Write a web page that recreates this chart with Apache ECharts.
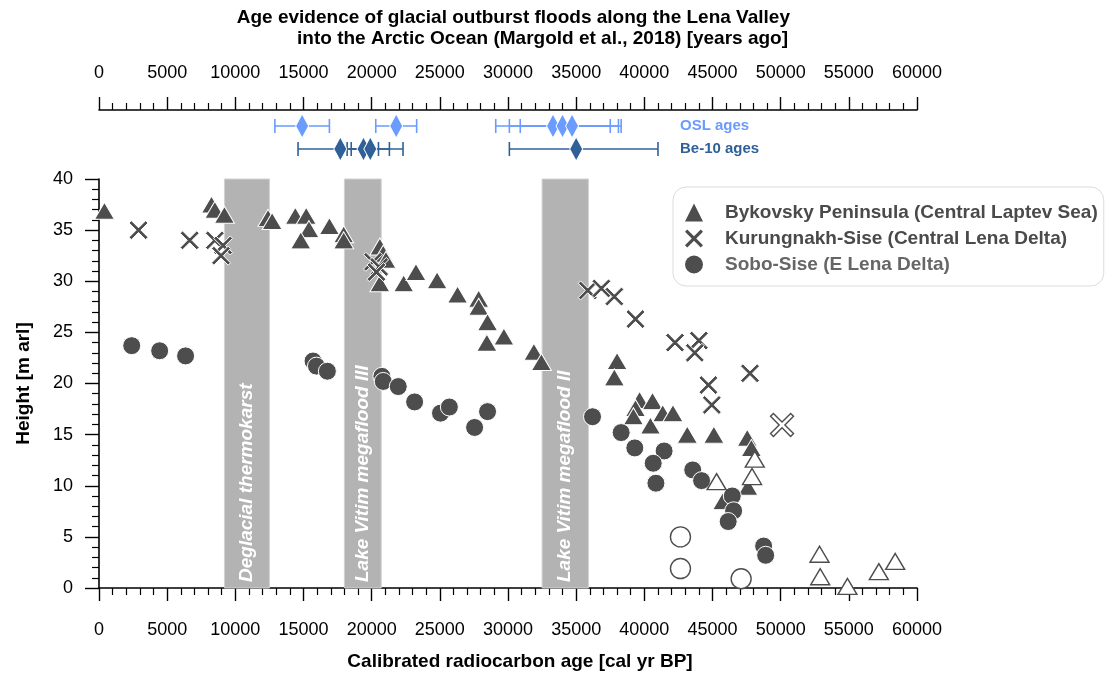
<!DOCTYPE html>
<html>
<head>
<meta charset="utf-8">
<script src="https://cdn.jsdelivr.net/npm/echarts@6/dist/echarts.min.js"></script>
<style>
  html, body { margin: 0; padding: 0; background: #fff; }
  #chart { width: 1105px; height: 673px; }
</style>
</head>
<body>
<div id="chart"></div>
<script>
// ---- Radiocarbon-dated samples: [age cal yr BP, height m arl] ----
const bykovsky = [
  [400, 36.9], [8250, 37.5], [8500, 37.0], [9200, 36.5], [12400, 36.2], [12700, 35.9],
  [14400, 36.4], [15200, 36.4], [15400, 35.1], [14800, 34.0], [16900, 35.4],
  [17950, 34.6], [17950, 34.0], [20600, 33.4], [20850, 32.7], [21050, 32.1],
  [20600, 29.8], [22350, 29.8], [23250, 30.9], [24800, 30.1], [26300, 28.7],
  [27850, 28.3], [27850, 27.5], [28500, 26.0], [28450, 24.0], [29700, 24.6],
  [31900, 23.1], [32450, 22.1], [38000, 22.2], [37800, 20.6], [39650, 18.4],
  [40600, 18.3], [39350, 17.6], [39200, 16.8], [40450, 15.9], [41350, 17.1],
  [42100, 17.1], [43150, 15.0], [45100, 15.0], [47550, 14.7], [47850, 13.7],
  [47600, 9.9], [45750, 8.5]
];
const bykovskyOpen = [
  [45300, 10.4], [47900, 10.9], [48100, 12.6], [52850, 3.3], [52900, 1.1],
  [54900, 0.15], [57200, 1.6], [58400, 2.6]
];
const kurungnakh = [
  [2900, 35.0], [6650, 34.0], [8500, 34.0], [9100, 33.5], [8950, 32.5],
  [20100, 31.9], [20550, 31.4], [20350, 30.9], [35850, 29.1], [36850, 29.3],
  [37800, 28.5], [39350, 26.3], [42250, 24.0], [44000, 24.2], [43700, 23.0],
  [47750, 21.0], [44700, 19.85], [44950, 17.9]
];
const kurungnakhOpen = [[50100, 15.95]];
const sobo = [
  [2400, 23.7], [4450, 23.2], [6350, 22.7], [15700, 22.2], [15950, 21.7],
  [16750, 21.2], [20750, 20.7], [20850, 20.2], [21950, 19.7], [23150, 18.2],
  [25050, 17.1], [25700, 17.7], [27550, 15.7], [28500, 17.25], [36200, 16.75],
  [38300, 15.2], [39300, 13.7], [41450, 13.4], [40650, 12.2], [40850, 10.25],
  [43550, 11.55], [44200, 10.5], [46450, 9.0], [46550, 7.55], [46150, 6.5],
  [48750, 4.1], [48900, 3.2]
];
const soboOpen = [[42650, 5.0], [42650, 1.9], [47100, 0.9]];

// ---- Dated flood evidence (Margold et al., 2018) [years ago] ----
const ageRows = ['OSL ages', 'Be-10 ages'];
const oslAge  = [14900, 21800, 33300, 34000, 34700];
const oslLow  = [12900, 20300, 29100, 30100, 30900];
const oslHigh = [16900, 23300, 37500, 38100, 38300];
const beAge   = [17700, 19400, 19900, 35000];
const beLow   = [14600, 18200, 18500, 30100];
const beHigh  = [20500, 21300, 22300, 41000];

// ---- Shaded periods ----
const periodStart = [9200, 18000, 32500];
const periodEnd   = [12500, 20700, 35900];
const periodName  = ['Deglacial thermokarst', 'Lake Vitim megaflood III', 'Lake Vitim megaflood II'];

const AGE_MIN = 0, AGE_MAX = 60000, AGE_STEP = 5000;
const H_MIN = 0, H_MAX = 40, H_STEP = 5;

const FONT = '"Liberation Sans", Arial, Helvetica, sans-serif';
const INK = '#4d4d4d';
const OSL_COLOR = '#6a9bff';
const BE_COLOR = '#2f6198';
// bold "x" marker outline (20 x 20 box)
const X_PATH = 'path://M0,2.5L2.5,0L10,7.5L17.5,0L20,2.5L12.5,10L20,17.5L17.5,20L10,12.5L2.5,20L0,17.5L7.5,10Z';

const NAMES = [
  'Bykovsky Peninsula (Central Laptev Sea)',
  'Kurungnakh-Sise (Central Lena Delta)',
  'Sobo-Sise (E Lena Delta)'
];

const plainNumber = v => String(v);

const chart = echarts.init(document.getElementById('chart'), null, { renderer: 'canvas' });

const filledStyle = { color: INK, borderColor: '#fff', borderWidth: 1, opacity: 1 };
const openStyle = { color: '#fff', borderColor: INK, borderWidth: 1.4, opacity: 1 };

function errorBarSeries(low, high, row, color) {
  return {
    type: 'custom',
    xAxisIndex: 0, yAxisIndex: 0,
    data: low.map((l, i) => [l, high[i], row]),
    encode: { x: [0, 1], y: 2 },
    z: 3,
    silent: true,
    renderItem(params, api) {
      const y = api.coord([api.value(0), api.value(2)])[1];
      const x0 = api.coord([api.value(0), api.value(2)])[0];
      const x1 = api.coord([api.value(1), api.value(2)])[0];
      const style = { stroke: color, lineWidth: 1.6 };
      return {
        type: 'group',
        children: [
          { type: 'line', shape: { x1: x0, y1: y, x2: x1, y2: y }, style },
          { type: 'line', shape: { x1: x0, y1: y - 7, x2: x0, y2: y + 7 }, style },
          { type: 'line', shape: { x1: x1, y1: y - 7, x2: x1, y2: y + 7 }, style }
        ]
      };
    }
  };
}

const axisLineStyle = { color: '#000', width: 1.6 };
const tickStyle = { color: '#000', width: 1.4 };
const minorStyle = { color: '#000', width: 1.2 };

const option = {
  animation: false,
  backgroundColor: '#fff',
  textStyle: { fontFamily: FONT },
  title: [
    {
      text: 'Age evidence of glacial outburst floods along the Lena Valley',
      right: 315, top: 8, padding: 0,
      textStyle: { fontFamily: FONT, fontSize: 19, fontWeight: 'bold', color: '#000' }
    },
    {
      text: 'into the Arctic Ocean (Margold et al., 2018) [years ago]',
      right: 317, top: 29, padding: 0,
      textStyle: { fontFamily: FONT, fontSize: 19, fontWeight: 'bold', color: '#000' }
    }
  ],
  legend: {
    orient: 'vertical',
    left: 673, top: 187,
    padding: [16, 6, 12, 12],
    itemWidth: 18, itemHeight: 18, itemGap: 7,
    backgroundColor: '#fff',
    borderColor: '#dcdcdc', borderWidth: 1, borderRadius: 13,
    selectedMode: false,
    itemStyle: { borderWidth: 0 },
    textStyle: { fontFamily: FONT, fontSize: 19, fontWeight: 'bold', color: '#4a4a4a', padding: [0, 0, 0, 17] },
    data: [
      { name: NAMES[0] },
      { name: NAMES[1] },
      { name: NAMES[2], textStyle: { color: '#666' } }
    ]
  },
  grid: [
    { left: 99, right: 188, top: 114.5, height: 46, outerBoundsMode: 'none', containLabel: false },
    { left: 99, right: 188, top: 179, bottom: 85, outerBoundsMode: 'none', containLabel: false }
  ],
  xAxis: [
    {
      gridIndex: 0, type: 'value', position: 'top', offset: 4.5,
      min: AGE_MIN, max: AGE_MAX, interval: AGE_STEP,
      axisLine: { show: true, lineStyle: axisLineStyle },
      axisTick: { show: true, inside: false, length: 13, lineStyle: tickStyle },
      minorTick: { show: true, splitNumber: 5, length: 7, lineStyle: minorStyle },
      splitLine: { show: false },
      axisLabel: { margin: 28, fontSize: 18, color: '#000', fontFamily: FONT, formatter: plainNumber }
    },
    {
      gridIndex: 1, type: 'value', position: 'bottom',
      min: AGE_MIN, max: AGE_MAX, interval: AGE_STEP,
      name: 'Calibrated radiocarbon age [cal yr BP]',
      nameLocation: 'middle', nameGap: 64,
      nameTextStyle: { fontFamily: FONT, fontSize: 19, fontWeight: 'bold', color: '#000', padding: [0, 0, 0, 24] },
      axisLine: { show: true, onZero: false, lineStyle: axisLineStyle },
      axisTick: { show: true, inside: false, length: 13, lineStyle: tickStyle },
      minorTick: { show: true, splitNumber: 5, length: 7, lineStyle: minorStyle },
      splitLine: { show: false },
      axisLabel: { margin: 33, fontSize: 18, color: '#000', fontFamily: FONT, formatter: plainNumber }
    }
  ],
  yAxis: [
    {
      gridIndex: 0, type: 'category', data: ageRows, inverse: true,
      position: 'right', offset: -240,
      axisLine: { show: false }, axisTick: { show: false }, splitLine: { show: false },
      axisLabel: {
        margin: 3, fontSize: 15, fontWeight: 'bold', fontFamily: FONT,
        color: (v, i) => (i === 0 ? OSL_COLOR : BE_COLOR)
      }
    },
    {
      gridIndex: 1, type: 'value',
      min: H_MIN, max: H_MAX, interval: H_STEP,
      name: 'Height [m arl]',
      nameLocation: 'middle', nameGap: 66,
      nameTextStyle: { fontFamily: FONT, fontSize: 19, fontWeight: 'bold', color: '#000' },
      axisLine: { show: true, lineStyle: axisLineStyle },
      axisTick: { show: true, inside: false, length: 14, lineStyle: tickStyle },
      minorTick: { show: true, splitNumber: 5, length: 7, lineStyle: minorStyle },
      splitLine: { show: false },
      axisLabel: { margin: 26, fontSize: 18, color: '#000', fontFamily: FONT }
    }
  ],
  series: [
    // shaded periods with rotated captions
    {
      type: 'custom',
      xAxisIndex: 1, yAxisIndex: 1,
      data: periodStart.map((s, i) => [s, periodEnd[i], i]),
      encode: { x: [0, 1] },
      z: 1,
      silent: true,
      renderItem(params, api) {
        const p0 = api.coord([api.value(0), H_MAX]);
        const p1 = api.coord([api.value(1), H_MIN]);
        const name = periodName[api.value(2)];
        return {
          type: 'group',
          children: [
            {
              type: 'rect',
              shape: { x: p0[0], y: p0[1], width: p1[0] - p0[0], height: p1[1] - p0[1] },
              style: { fill: '#b3b3b3', stroke: '#d2d2d2', lineWidth: 1 }
            },
            {
              type: 'text',
              x: (p0[0] + p1[0]) / 2, y: p1[1] - 6,
              rotation: Math.PI / 2,
              style: {
                text: name, fill: '#fff',
                font: 'italic bold 19px ' + FONT,
                align: 'left', verticalAlign: 'middle'
              }
            }
          ]
        };
      }
    },
    errorBarSeries(oslLow, oslHigh, 0, OSL_COLOR),
    errorBarSeries(beLow, beHigh, 1, BE_COLOR),
    {
      type: 'scatter', xAxisIndex: 0, yAxisIndex: 0,
      symbol: 'diamond', symbolSize: [13, 24], z: 4,
      itemStyle: { color: OSL_COLOR, borderColor: '#fff', borderWidth: 1, opacity: 1 },
      data: oslAge.map(a => [a, 0])
    },
    {
      type: 'scatter', xAxisIndex: 0, yAxisIndex: 0,
      symbol: 'diamond', symbolSize: [13, 24], z: 4,
      itemStyle: { color: BE_COLOR, borderColor: '#fff', borderWidth: 1, opacity: 1 },
      data: beAge.map(a => [a, 1])
    },
    // sample sites
    {
      name: NAMES[0], type: 'scatter', xAxisIndex: 1, yAxisIndex: 1,
      symbol: 'triangle', symbolSize: [20, 17], z: 5,
      itemStyle: filledStyle, data: bykovsky
    },
    {
      name: NAMES[1], type: 'scatter', xAxisIndex: 1, yAxisIndex: 1,
      symbol: X_PATH, symbolSize: 19, z: 5,
      itemStyle: filledStyle, data: kurungnakh
    },
    {
      name: NAMES[2], type: 'scatter', xAxisIndex: 1, yAxisIndex: 1,
      symbol: 'circle', symbolSize: 18, z: 5,
      itemStyle: filledStyle, data: sobo
    },
    {
      name: NAMES[0], type: 'scatter', xAxisIndex: 1, yAxisIndex: 1,
      symbol: 'triangle', symbolSize: [19, 16], z: 6,
      itemStyle: openStyle, data: bykovskyOpen
    },
    {
      name: NAMES[1], type: 'scatter', xAxisIndex: 1, yAxisIndex: 1,
      symbol: X_PATH, symbolSize: 23, z: 6,
      itemStyle: openStyle, data: kurungnakhOpen
    },
    {
      name: NAMES[2], type: 'scatter', xAxisIndex: 1, yAxisIndex: 1,
      symbol: 'circle', symbolSize: 20, z: 6,
      itemStyle: openStyle, data: soboOpen
    }
  ]
};

chart.setOption(option);
</script>
</body>
</html>
